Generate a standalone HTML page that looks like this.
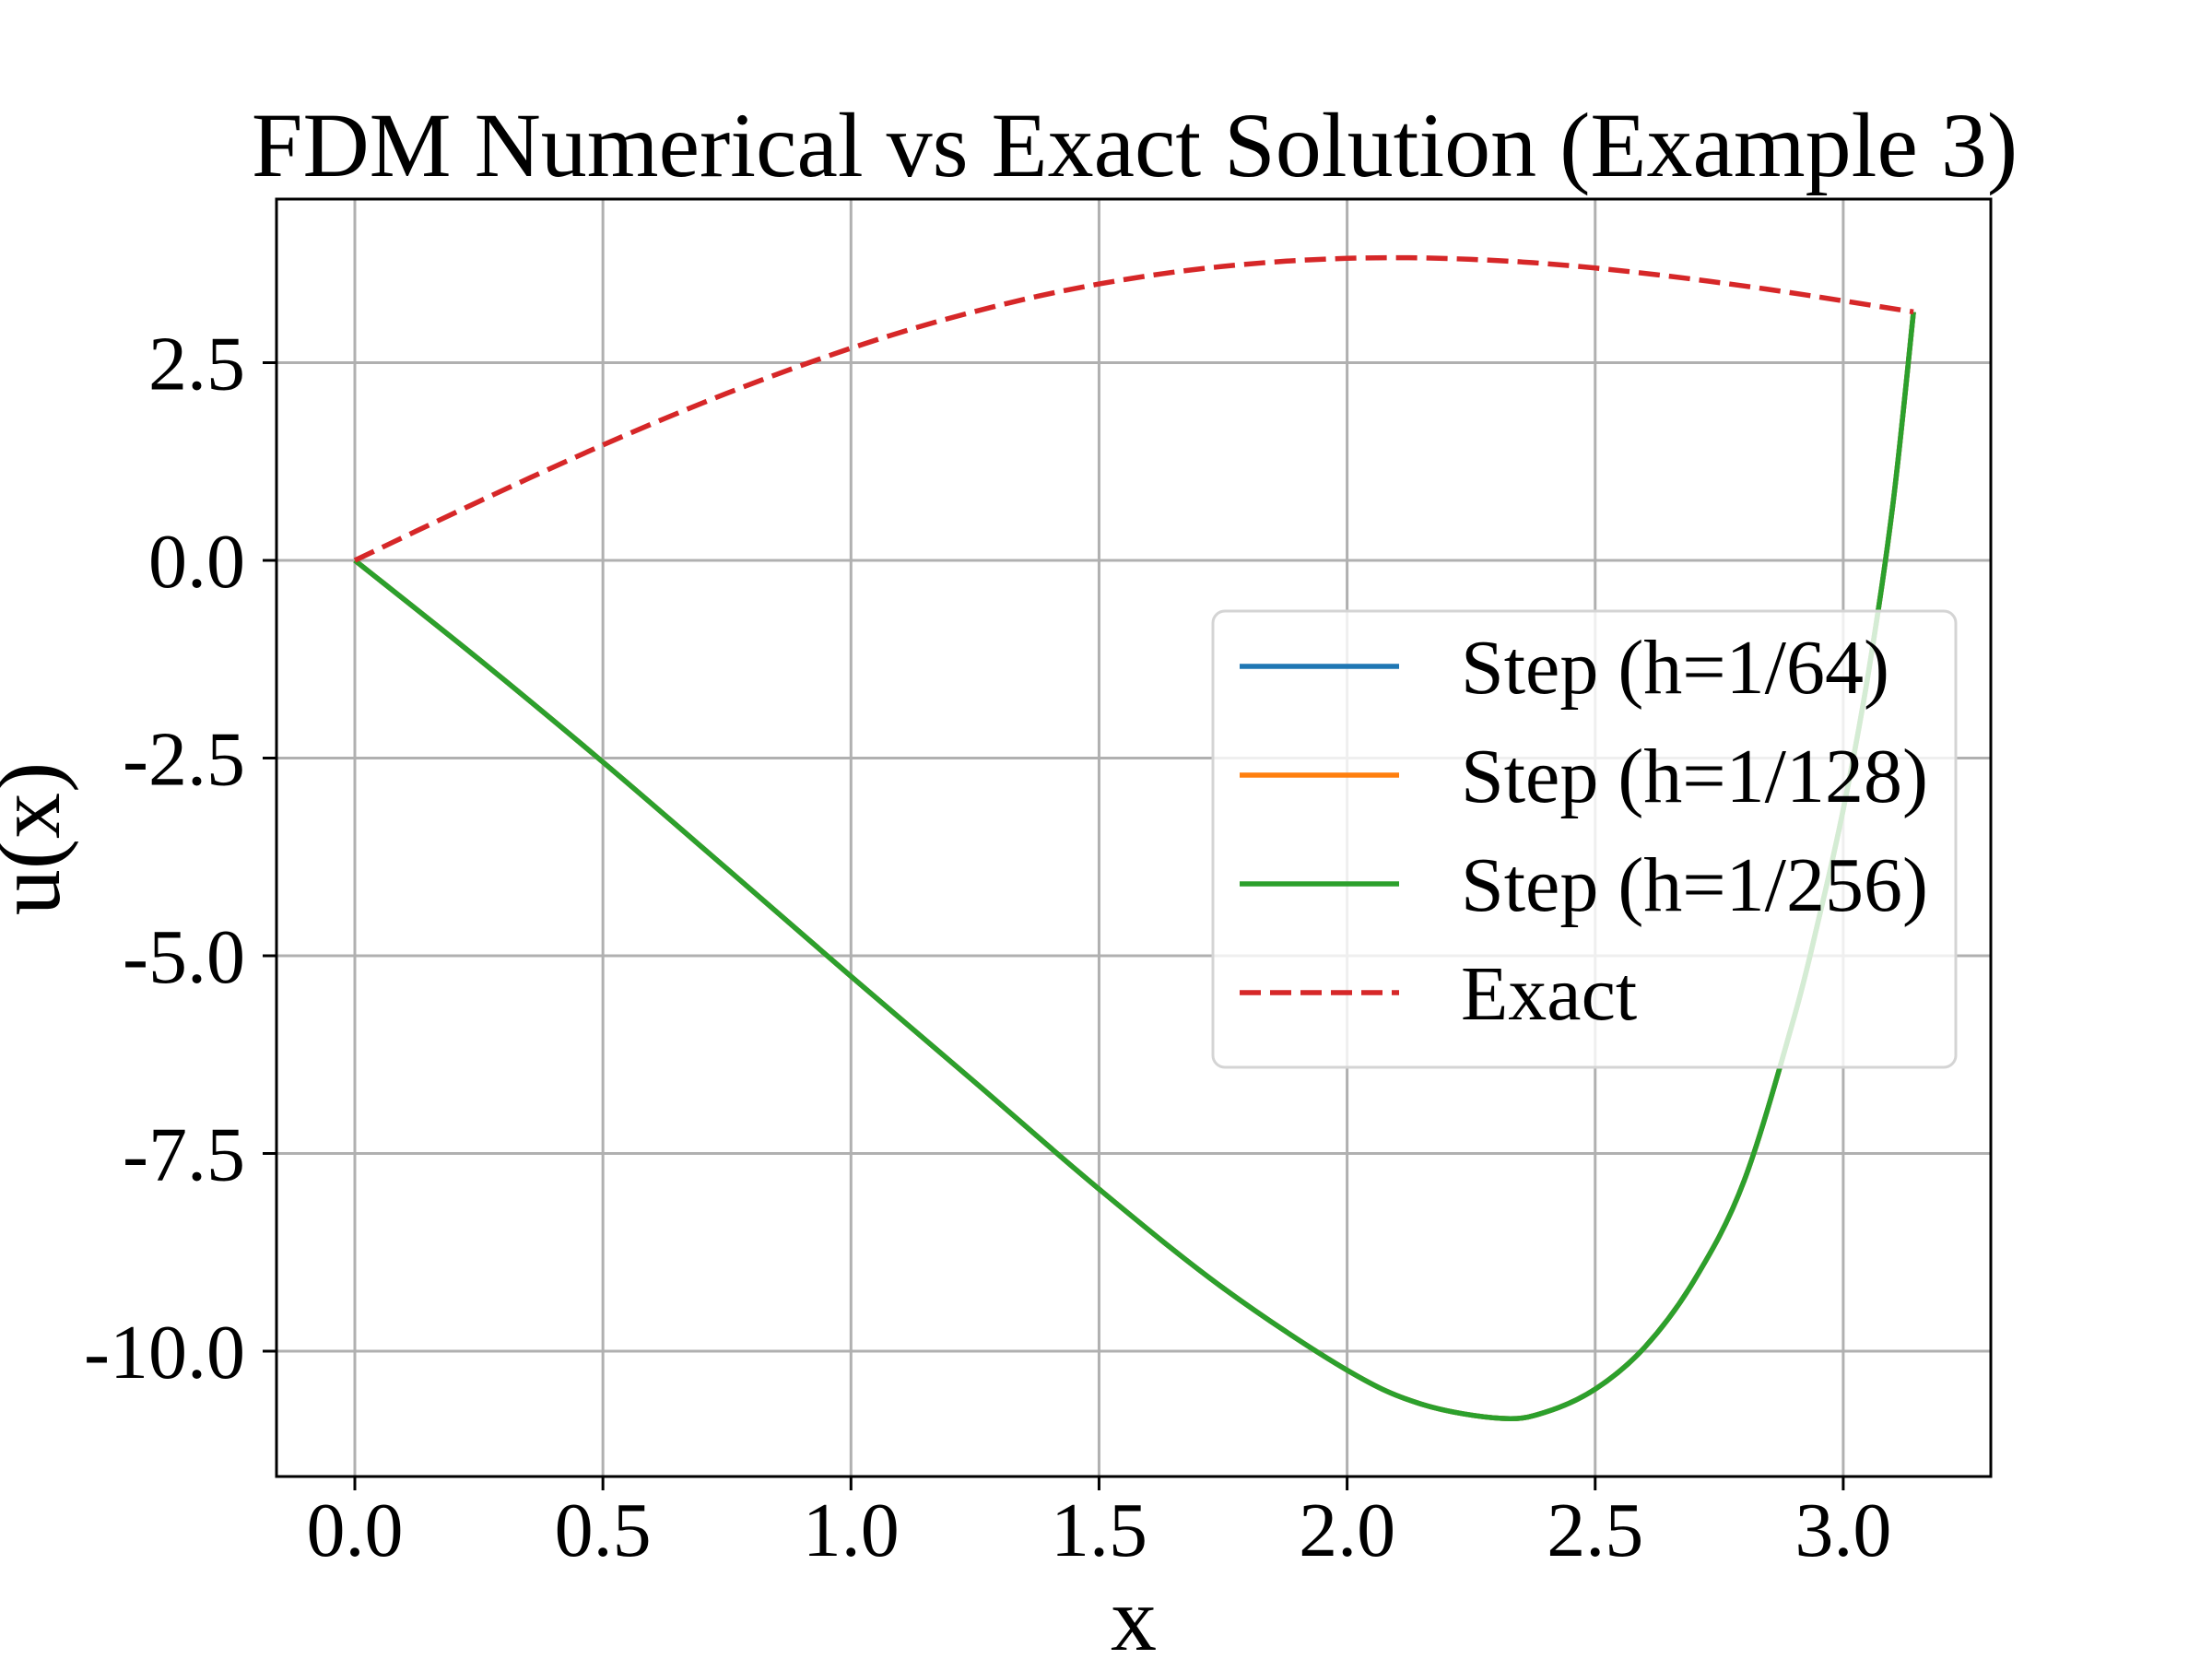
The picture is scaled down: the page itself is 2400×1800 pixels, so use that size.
<!DOCTYPE html>
<html><head><meta charset="utf-8"><style>
html,body{margin:0;padding:0;background:#fff;}
svg{display:block;font-family:"Liberation Serif","DejaVu Serif",serif;}
</style></head><body>
<svg id="chart" width="2400" height="1800" viewBox="0 0 2400 1800" xmlns="http://www.w3.org/2000/svg">
<rect x="0" y="0" width="2400" height="1800" fill="#fff"/>
<text x="1231" y="191" font-size="100" text-anchor="middle">FDM Numerical vs Exact Solution (Example 3)</text>
<g id="grid"></g>
<g id="series"></g>
<rect x="300" y="216" width="1860" height="1386" fill="none" stroke="#000" stroke-width="3"/>
<g id="ticks"></g>
<text x="1230" y="1790" font-size="100" text-anchor="middle">x</text>
<text transform="translate(64,910) rotate(-90)" font-size="100" text-anchor="middle">u(x)</text>
<g id="legend">
<rect x="1316" y="663" width="806" height="495" rx="13" fill="#fff" fill-opacity="0.8" stroke="#d4d4d4" stroke-width="3"/>
</g>
</svg>
<script>
const xTicks = [0.0, 0.5, 1.0, 1.5, 2.0, 2.5, 3.0];
const xTickLabels = ["0.0","0.5","1.0","1.5","2.0","2.5","3.0"];
const yTicks = [2.5, 0.0, -2.5, -5.0, -7.5, -10.0];
const yTickLabels = ["2.5","0.0","-2.5","-5.0","-7.5","-10.0"];
const numX = [0, 0.25, 0.5, 0.75, 1.0, 1.25, 1.5, 1.75, 2.0, 2.15, 2.31, 2.4, 2.5, 2.6, 2.7, 2.8, 2.9, 2.95, 3.0, 3.05, 3.1, 3.1416];
const stepH64 = [0, -1.25, -2.55, -3.9, -5.26, -6.6, -7.95, -9.2, -10.24, -10.67, -10.85, -10.77, -10.48, -9.95, -9.1, -7.85, -5.8, -4.55, -3.15, -1.45, 0.7, 3.14];
const stepH128 = [0, -1.25, -2.55, -3.9, -5.26, -6.6, -7.95, -9.2, -10.24, -10.67, -10.85, -10.77, -10.48, -9.95, -9.1, -7.85, -5.8, -4.55, -3.15, -1.45, 0.7, 3.14];
const stepH256 = [0, -1.25, -2.55, -3.9, -5.26, -6.6, -7.95, -9.2, -10.24, -10.67, -10.85, -10.77, -10.48, -9.95, -9.1, -7.85, -5.8, -4.55, -3.15, -1.45, 0.7, 3.14];
const exactX = [0, 0.125, 0.25, 0.375, 0.5, 0.625, 0.75, 0.875, 1.0, 1.125, 1.25, 1.375, 1.5, 1.625, 1.75, 1.875, 2.0, 2.125, 2.25, 2.375, 2.5, 2.625, 2.75, 2.875, 3.0, 3.1416];
const exactY = [0, 0.374, 0.745, 1.107, 1.459, 1.795, 2.113, 2.409, 2.683, 2.931, 3.148, 3.338, 3.495, 3.622, 3.718, 3.783, 3.819, 3.827, 3.806, 3.764, 3.697, 3.612, 3.513, 3.403, 3.282, 3.142];
const legendLabels = ["Step (h=1/64)", "Step (h=1/128)", "Step (h=1/256)", "Exact"];

const NS = "http://www.w3.org/2000/svg";
const L = 300, R = 2160, T = 216, B = 1602;
function sx(v){ return 385 + v * 538.3; }
function sy(v){ return 608 - v * 85.8; }
function mk(tag, attrs, parent){
  const e = document.createElementNS(NS, tag);
  for (const k in attrs) e.setAttribute(k, attrs[k]);
  parent.appendChild(e);
  return e;
}
const grid = document.getElementById('grid');
const ticks = document.getElementById('ticks');
xTicks.forEach((v, i) => {
  const g = mk('line', {x1: sx(v), x2: sx(v), y1: T, y2: B, stroke: '#b0b0b0', 'stroke-width': 3}, grid);
  
  
  const t = mk('line', {x1: sx(v), x2: sx(v), y1: B, y2: B + 15, stroke: '#000', 'stroke-width': 3}, ticks);
  
  
  const lb = mk('text', {x: sx(v), y: 1688, 'font-size': 84, 'text-anchor': 'middle'}, ticks);
  lb.textContent = xTickLabels[i];
  
  
});
yTicks.forEach((v, i) => {
  const g = mk('line', {x1: L, x2: R, y1: sy(v), y2: sy(v), stroke: '#b0b0b0', 'stroke-width': 3}, grid);
  
  
  const t = mk('line', {x1: L - 15, x2: L, y1: sy(v), y2: sy(v), stroke: '#000', 'stroke-width': 3}, ticks);
  
  
  const lb = mk('text', {x: 266, y: sy(v) + 29, 'font-size': 84, 'text-anchor': 'end'}, ticks);
  lb.textContent = yTickLabels[i];
  
  
});
const series = document.getElementById('series');
function pathOf(xs, ys){
  const p = xs.map((x, i) => [sx(x), sy(ys[i])]);
  let d = 'M' + p[0][0].toFixed(1) + ',' + p[0][1].toFixed(1);
  for (let i = 0; i < p.length - 1; i++) {
    const p0 = p[Math.max(0, i - 1)], p1 = p[i], p2 = p[i + 1], p3 = p[Math.min(p.length - 1, i + 2)];
    const c1 = [p1[0] + (p2[0] - p0[0]) / 6, p1[1] + (p2[1] - p0[1]) / 6];
    const c2 = [p2[0] - (p3[0] - p1[0]) / 6, p2[1] - (p3[1] - p1[1]) / 6];
    d += ' C' + c1[0].toFixed(1) + ',' + c1[1].toFixed(1) + ' ' + c2[0].toFixed(1) + ',' + c2[1].toFixed(1) + ' ' + p2[0].toFixed(1) + ',' + p2[1].toFixed(1);
  }
  return d;
}
const s1 = mk('path', {d: pathOf(numX, stepH64), fill: 'none', stroke: '#1f77b4', 'stroke-width': 5.5, 'stroke-linejoin': 'round'}, series);


const s2 = mk('path', {d: pathOf(numX, stepH128), fill: 'none', stroke: '#ff7f0e', 'stroke-width': 5.5, 'stroke-linejoin': 'round'}, series);


const s3 = mk('path', {d: pathOf(numX, stepH256), fill: 'none', stroke: '#2ca02c', 'stroke-width': 5.5, 'stroke-linejoin': 'round'}, series);


const s4 = mk('path', {d: pathOf(exactX, exactY), fill: 'none', stroke: '#d62728', 'stroke-width': 5.5, 'stroke-dasharray': '23 10'}, series);



const legend = document.getElementById('legend');
const colors = ['#1f77b4', '#ff7f0e', '#2ca02c', '#d62728'];
const rowY = [723, 841, 959, 1077];
legendLabels.forEach((lab, i) => {
  const ln = mk('line', {x1: 1345, x2: 1518, y1: rowY[i], y2: rowY[i], stroke: colors[i], 'stroke-width': 5.5}, legend);
  if (i === 3) ln.setAttribute('stroke-dasharray', '23 10');
  
  
  const tx = mk('text', {x: 1585, y: rowY[i] + 29, 'font-size': 84}, legend);
  tx.textContent = lab;
  
  
});
</script>
</body></html>
